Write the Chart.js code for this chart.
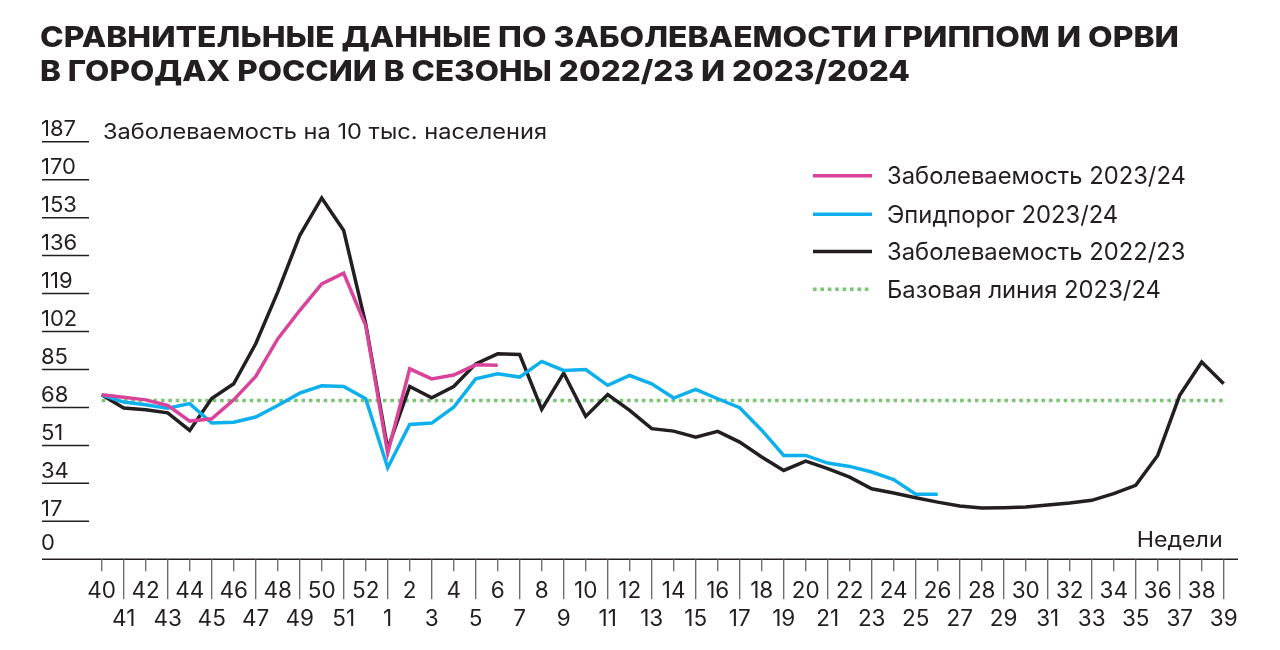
<!DOCTYPE html>
<html><head><meta charset="utf-8">
<script src="https://cdn.jsdelivr.net/npm/chart.js@4/dist/chart.umd.min.js"></script>
<style>html,body{margin:0;padding:0;background:#fff;} #c{display:block;}</style>
</head><body>
<canvas id="c" width="1280" height="650"></canvas>
<script>
// ---- data ----
const weeks = ['40','41','42','43','44','45','46','47','48','49','50','51','52',
  '1','2','3','4','5','6','7','8','9','10','11','12','13','14','15','16','17','18','19','20',
  '21','22','23','24','25','26','27','28','29','30','31','32','33','34','35','36','37','38','39'];
const yTicks = [0,17,34,51,68,85,102,119,136,153,170,187];
const inc2324 = [73.7,72.6,71.4,68.9,61.9,62.9,71.4,81.9,98.7,111.4,123.3,128.1,104.7,47.6,85.3,80.8,82.5,87.1,86.9];
const epi2324 = [73.7,70.4,69.2,67.7,69.7,61.0,61.4,63.7,68.9,74.4,77.7,77.4,71.9,41.0,60.4,61.0,68.1,80.8,83.1,81.6,
  88.6,84.6,85.0,77.9,82.3,78.6,72.2,76.1,71.9,67.9,57.8,46.5,46.5,43.1,41.6,39.1,35.7,29.1,29.1];
const inc2223 = [73.7,67.7,67.0,65.6,57.7,72.0,78.6,96.5,119.6,145.0,161.8,147.2,105.4,49.5,77.4,72.3,77.4,87.5,92.0,91.7,
  67.1,83.4,64.0,73.8,66.7,58.5,57.4,54.7,57.3,52.5,45.8,39.8,44.0,40.6,36.8,31.6,29.7,27.6,25.6,23.9,
  23.0,23.1,23.4,24.3,25.2,26.4,29.4,33.1,46.5,73.4,88.3,78.6];
const baseline2324 = 71.1;
const seriesNames = ['Заболеваемость 2023/24','Эпидпорог 2023/24','Заболеваемость 2022/23','Базовая линия 2023/24'];
const titleLines = ['СРАВНИТЕЛЬНЫЕ ДАННЫЕ ПО ЗАБОЛЕВАЕМОСТИ ГРИППОМ И ОРВИ','В ГОРОДАХ РОССИИ В СЕЗОНЫ 2022/23 И 2023/2024'];
const yAxisTitle = 'Заболеваемость на 10 тыс. населения';
const xAxisTitle = 'Недели';

// ---- style ----
const INK = '#231f20';
const FONT = 'Inter, "Noto Sans", sans-serif';
const PINK = '#d9449a', BLUE = '#0db0ec', BLACK = '#231f20', GREEN = '#7cc576';

function fitText(ctx, text, x, y, w, align) {
  const m = ctx.measureText(text).width;
  const s = w / m;
  ctx.save();
  ctx.translate(x, y);
  ctx.scale(s, 1);
  ctx.textAlign = 'left';
  ctx.fillText(text, align === 'right' ? -m : 0, 0);
  ctx.restore();
}

const axesPlugin = {
  id: 'customAxes',
  beforeDatasetsDraw(chart) {
    const ctx = chart.ctx, ys = chart.scales.y, xs = chart.scales.x;
    ctx.save();
    ctx.fillStyle = INK;
    ctx.strokeStyle = INK;
    ctx.lineWidth = 1.5;
    ctx.textBaseline = 'alphabetic';
    ctx.font = '22px ' + FONT;
    yTicks.forEach(v => {
      const py = ys.getPixelForValue(v);
      ctx.textAlign = 'left';
      if (v > 0) {
        ctx.beginPath(); ctx.moveTo(42, py); ctx.lineTo(89, py); ctx.stroke();
        ctx.fillText(String(v), 41, py - 5.5);
      } else {
        ctx.fillText(String(v), 41, py - 9);
      }
    });
    const py0 = ys.getPixelForValue(0);
    ctx.beginPath(); ctx.moveTo(42, py0); ctx.lineTo(1238, py0); ctx.stroke();
    ctx.strokeStyle = '#666';
    ctx.lineWidth = 1.3;
    ctx.font = '22.5px ' + FONT;
    weeks.forEach((w, i) => {
      const px = xs.getPixelForValue(i);
      const long = i % 2 === 1;
      ctx.beginPath(); ctx.moveTo(px, py0); ctx.lineTo(px, py0 + (long ? 40 : 12)); ctx.stroke();
      ctx.textAlign = 'center';
      ctx.fillText(w, px, long ? py0 + 67 : py0 + 38.5);
    });
    // axis titles
    ctx.font = '21px ' + FONT;
    fitText(ctx, yAxisTitle, 103, 139, 444, 'left');
    fitText(ctx, xAxisTitle, 1222.7, 547, 86, 'right');
    // title
    ctx.font = '800 29px ' + FONT;
    fitText(ctx, titleLines[0], 40, 47, 1139, 'left');
    fitText(ctx, titleLines[1], 40, 80.5, 870, 'left');
    ctx.restore();
  },
  afterDraw(chart) {
    const ctx = chart.ctx;
    const rows = [175.7, 214.3, 251.5, 289.3];
    ctx.save();
    ctx.font = '22px ' + FONT;
    const m = ctx.measureText(seriesNames[0]).width;
    const sz = 22 * 299 / m;
    ctx.font = sz.toFixed(2) + 'px ' + FONT;
    chart.data.datasets.forEach((ds, i) => {
      const cy = rows[i];
      ctx.strokeStyle = ds.borderColor;
      ctx.lineWidth = ds.borderWidth;
      ctx.setLineDash(ds.borderDash || []);
      ctx.beginPath(); ctx.moveTo(813, cy); ctx.lineTo(872, cy); ctx.stroke();
      ctx.setLineDash([]);
      ctx.fillStyle = INK;
      ctx.textAlign = 'left';
      ctx.textBaseline = 'alphabetic';
      ctx.fillText(ds.label, 887, cy + 8.5);
    });
    ctx.restore();
  }
};

const common = { pointRadius: 0, pointHoverRadius: 0, tension: 0, fill: false, clip: false, borderJoinStyle: 'miter', borderCapStyle: 'butt' };

new Chart(document.getElementById('c'), {
  type: 'line',
  data: {
    labels: weeks,
    datasets: [
      Object.assign({ label: seriesNames[0], data: inc2324, borderColor: PINK, borderWidth: 3.5 }, common),
      Object.assign({ label: seriesNames[1], data: epi2324, borderColor: BLUE, borderWidth: 3.5 }, common),
      Object.assign({ label: seriesNames[2], data: inc2223, borderColor: BLACK, borderWidth: 3.5 }, common),
      Object.assign({ label: seriesNames[3], data: [{x: weeks[0], y: baseline2324}, {x: weeks[weeks.length - 1], y: baseline2324}],
        borderColor: GREEN, borderWidth: 3.5, borderDash: [3.6, 3.8] }, common)
    ]
  },
  options: {
    responsive: false,
    animation: false,
    devicePixelRatio: 1,
    layout: { padding: { left: 101.7, right: 56.3, top: 141.7, bottom: 90.7 } },
    scales: {
      x: { type: 'category', display: false, offset: false },
      y: { type: 'linear', display: false, min: 0, max: 187 }
    },
    plugins: { legend: { display: false }, title: { display: false }, tooltip: { enabled: false } },
    events: []
  },
  plugins: [axesPlugin]
});
</script>
</body></html>
